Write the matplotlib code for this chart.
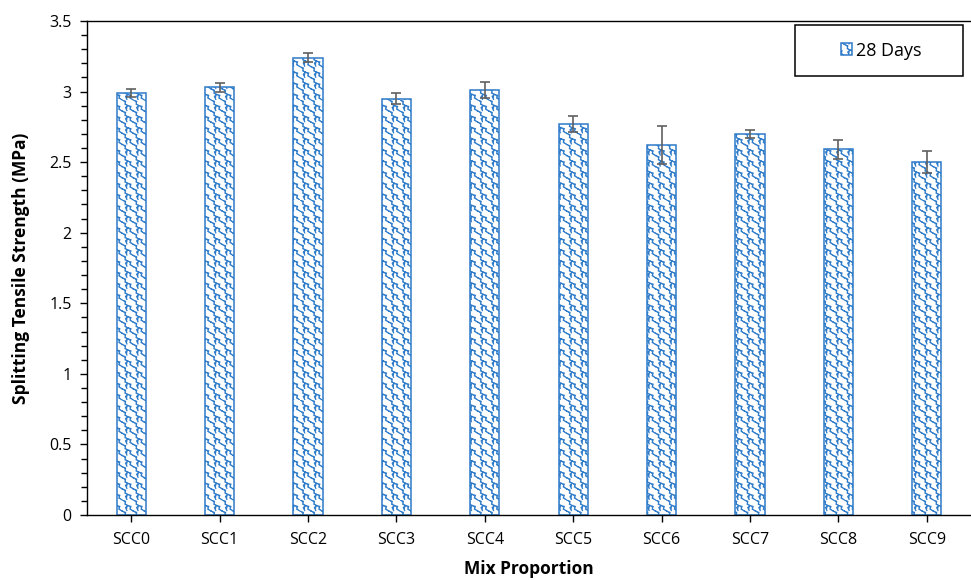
import warnings
import numpy as np
import matplotlib
matplotlib.use("Agg")
import matplotlib.pyplot as plt
import matplotlib.hatch as mhatch
from matplotlib.path import Path
from matplotlib.patches import Rectangle
from matplotlib.ticker import MultipleLocator, FuncFormatter

warnings.filterwarnings("ignore")

mixes = ["SCC0", "SCC1", "SCC2", "SCC3", "SCC4", "SCC5", "SCC6", "SCC7", "SCC8", "SCC9"]
strength_28d = [2.99, 3.03, 3.24, 2.95, 3.01, 2.77, 2.62, 2.70, 2.59, 2.50]
error_28d = [0.025, 0.03, 0.03, 0.04, 0.055, 0.055, 0.135, 0.03, 0.065, 0.08]
series_label = "28 Days"

BLUE = "#2E7BC9"


class ShingleHatch(mhatch.HatchPatternBase):
    """Shingle-like hatch: wavy S strokes repeated on a grid, triggered by 'c'."""

    # one S stroke inside a unit cell
    stroke = np.array([
        [0.00, 1.00], [0.30, 0.88], [0.25, 0.62], [0.50, 0.50],
        [0.78, 0.42], [0.70, 0.18], [1.00, 0.00],
    ])
    hook = np.array([[0.50, 0.50], [0.30, 0.32], [0.42, 0.05]])

    def __init__(self, hatch, density):
        self.n = hatch.count("c") * 9
        self.per_cell = len(self.stroke) + len(self.hook)
        self.num_vertices = self.n * self.n * self.per_cell

    def set_vertices_and_codes(self, vertices, codes):
        n = self.n
        k = 0
        for i in range(n):
            for j in range(n):
                for shape in (self.stroke, self.hook):
                    m = len(shape)
                    vertices[k:k + m] = (shape + [i, j]) / n
                    codes[k] = Path.MOVETO
                    codes[k + 1:k + m] = Path.LINETO
                    k += m


mhatch._hatch_types.append(ShingleHatch)

plt.rcParams["font.family"] = ["Open Sans", "DejaVu Sans"]
plt.rcParams["hatch.linewidth"] = 0.9

fig = plt.figure(figsize=(9.71, 5.80), dpi=100)
ax = fig.add_axes([0.0896, 0.1121, 0.9104, 0.8517])

x = np.arange(len(mixes))
ax.bar(x, strength_28d, width=0.33, color="white", edgecolor=BLUE,
       linewidth=1.1, hatch="c", label=series_label, zorder=2)
ax.errorbar(x, strength_28d, yerr=error_28d, fmt="none", ecolor="#606060",
            elinewidth=1.2, capsize=3.5, capthick=1.2, zorder=3)

ax.set_xlim(-0.5, len(mixes) - 0.5)
ax.set_ylim(0, 3.5)
ax.set_xticks(x)
ax.set_xticklabels(mixes)
ax.yaxis.set_major_locator(MultipleLocator(0.5))
ax.yaxis.set_minor_locator(MultipleLocator(0.1))
ax.yaxis.set_major_formatter(FuncFormatter(lambda v, p: f"{v:g}"))

ax.tick_params(axis="both", which="major", direction="out", length=5,
               width=1.0, labelsize=11.5, colors="black")
ax.tick_params(axis="y", which="minor", direction="out", length=4, width=1.0)
ax.tick_params(axis="x", which="major", pad=7)
ax.tick_params(axis="y", which="major", pad=6)

for side in ("left", "bottom", "top"):
    ax.spines[side].set_color("black")
    ax.spines[side].set_linewidth(1.0)
ax.spines["right"].set_visible(False)

ax.set_xlabel("Mix Proportion", fontsize=12.5, fontweight="bold", labelpad=9)
ax.set_ylabel("Splitting Tensile Strength (MPa)", fontsize=12.5,
              fontweight="bold", labelpad=14)

# legend box
fig.patches.append(Rectangle((795 / 971, 1 - 76 / 580), 168 / 971, 51 / 580,
                             transform=fig.transFigure, facecolor="white",
                             edgecolor="black", linewidth=1.1, zorder=5))
leg = fig.legend(loc="center", bbox_to_anchor=(881 / 971, 1 - 50.5 / 580),
                 frameon=False, fontsize=13, handlelength=0.65,
                 handleheight=0.65, handletextpad=0.2, borderpad=0)
leg.set_zorder(6)

fig.savefig("out.png", dpi=100)
